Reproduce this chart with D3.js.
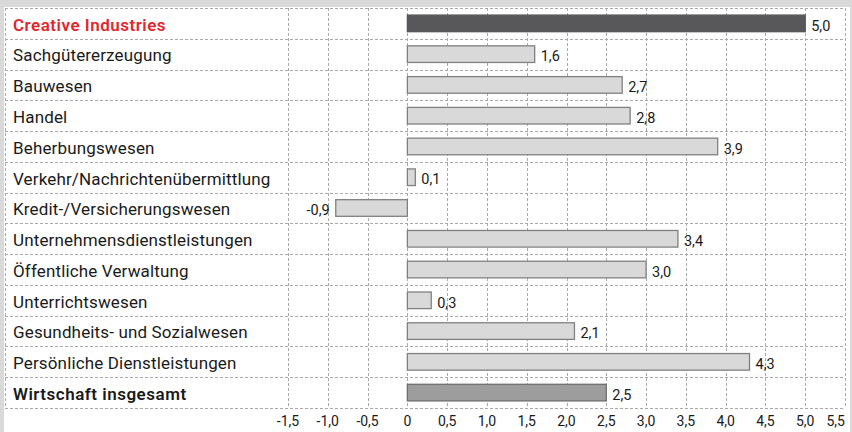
<!DOCTYPE html>
<html>
<head>
<meta charset="utf-8">
<script src="https://cdn.jsdelivr.net/npm/d3@7"></script>
<style>
  html, body { margin: 0; padding: 0; background: #d9d9d9; }
  svg { display: block; }
</style>
</head>
<body>
<svg id="chart" width="852" height="432"></svg>
<script>
// Branches and their growth values
const categories = [
  "Creative Industries",
  "Sachgütererzeugung",
  "Bauwesen",
  "Handel",
  "Beherbungswesen",
  "Verkehr/Nachrichtenübermittlung",
  "Kredit-/Versicherungswesen",
  "Unternehmensdienstleistungen",
  "Öffentliche Verwaltung",
  "Unterrichtswesen",
  "Gesundheits- und Sozialwesen",
  "Persönliche Dienstleistungen",
  "Wirtschaft insgesamt"
];
const values = [5.0, 1.6, 2.7, 2.8, 3.9, 0.1, -0.9, 3.4, 3.0, 0.3, 2.1, 4.3, 2.5];
const tickValues = [-1.5, -1.0, -0.5, 0, 0.5, 1.0, 1.5, 2.0, 2.5, 3.0, 3.5, 4.0, 4.5, 5.0, 5.5];

const svg = d3.select("#chart");
const W = 852, H = 432;

const panel = { left: 4, top: 7, right: 850 };
const grid = { left: 5, top: 8, bottom: 408 };
const plot = { left: 288, right: 845 };

// German number style: decimal comma, plain hyphen as minus sign
const de = d3.formatLocale({ decimal: ",", thousands: ".", grouping: [3], currency: ["", " €"], minus: "-" });
const fmt = de.format(".1f");
const tickFmt = v => v === 0 ? "0" : fmt(v);

const x = d3.scaleLinear().domain([-1.5, 5.5]).range([plot.left, plot.right]);
const rows = d3.scaleBand().domain(categories).range([grid.top, grid.bottom]);
const bars = d3.scaleBand().domain(categories).range([grid.top, grid.bottom]).paddingInner(0.46).paddingOuter(0.23);

const fontFam = "Roboto, 'DejaVu Sans', sans-serif";
const last = categories.length - 1;

// white panel
svg.append("rect")
  .attr("x", panel.left).attr("y", panel.top)
  .attr("width", panel.right - panel.left).attr("height", H - panel.top)
  .attr("fill", "#ffffff");

const gridColor = "#a9a9a9";
const dash = "3,2";

// horizontal row separators
const rowEdges = categories.map(c => rows(c)).concat([grid.bottom]);
svg.append("g").selectAll("line").data(rowEdges).join("line")
  .attr("x1", grid.left).attr("x2", plot.right)
  .attr("y1", d => Math.round(d) + 0.5).attr("y2", d => Math.round(d) + 0.5)
  .attr("stroke", gridColor).attr("stroke-dasharray", dash);

// vertical grid lines (left border plus one per tick)
svg.append("g").selectAll("line").data([grid.left].concat(tickValues.map(t => x(t)))).join("line")
  .attr("x1", d => Math.round(d) + 0.5).attr("x2", d => Math.round(d) + 0.5)
  .attr("y1", grid.top).attr("y2", grid.bottom)
  .attr("stroke", gridColor).attr("stroke-dasharray", dash);

// bars
const fillFor = (c, i) => i === 0 ? "#58585a" : (i === last ? "#9d9d9d" : "#d9d9d9");
const strokeFor = (c, i) => i === 0 ? "#58585a" : (i === last ? "#6e6e6e" : "#808080");

svg.append("g").selectAll("rect").data(categories).join("rect")
  .attr("x", (c, i) => x(Math.min(0, values[i])))
  .attr("y", c => bars(c))
  .attr("width", (c, i) => Math.abs(x(values[i]) - x(0)))
  .attr("height", bars.bandwidth())
  .attr("fill", fillFor)
  .attr("stroke", strokeFor)
  .attr("stroke-width", 1.3);

// value labels
svg.append("g").selectAll("text").data(categories).join("text")
  .attr("x", (c, i) => values[i] < 0 ? x(values[i]) - 6 : x(values[i]) + 6)
  .attr("y", c => bars(c) + bars.bandwidth() / 2)
  .attr("dy", "0.5em")
  .attr("text-anchor", (c, i) => values[i] < 0 ? "end" : "start")
  .attr("font-family", fontFam).attr("font-size", 14.5)
  .attr("fill", "#1a1a1a")
  .text((c, i) => fmt(values[i]));

// category labels
svg.append("g").selectAll("text").data(categories).join("text")
  .attr("x", 13)
  .attr("y", c => rows(c) + rows.bandwidth() / 2)
  .attr("dy", "0.43em")
  .attr("font-family", fontFam).attr("font-size", 17)
  .attr("font-weight", (c, i) => (i === 0 || i === last) ? 600 : 400)
  .attr("letter-spacing", (c, i) => (i === 0 || i === last) ? 0.5 : 0.15)
  .attr("fill", (c, i) => i === 0 ? "#e3262b" : "#1a1a1a")
  .text(c => c);

// x axis tick labels (the last one is end-aligned to stay inside the panel)
svg.append("g").selectAll("text").data(tickValues).join("text")
  .attr("x", t => x(t))
  .attr("y", 421)
  .attr("dy", "0.38em")
  .attr("text-anchor", (t, i) => i === tickValues.length - 1 ? "end" : "middle")
  .attr("font-family", fontFam).attr("font-size", 14)
  .attr("fill", "#1a1a1a")
  .text(tickFmt);
</script>
</body>
</html>
